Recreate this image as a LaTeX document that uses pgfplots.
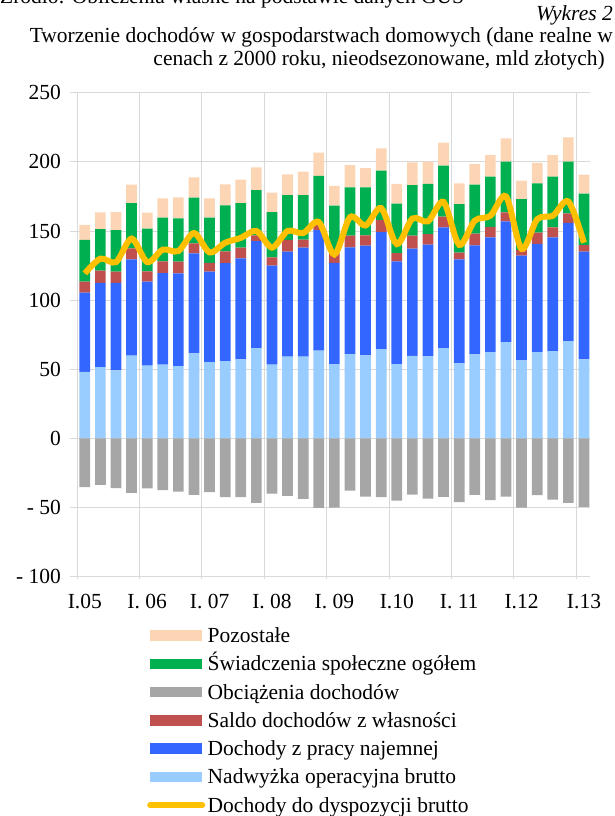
\documentclass[border=0pt]{standalone}
\usepackage{pgfplots}
\pgfplotsset{compat=1.18}
\usepackage{pgfplotstable}
\usepackage{fontspec}
\setmainfont{Liberation Serif}
\definecolor{cPeach}{RGB}{252,213,180}
\definecolor{cGreen}{RGB}{0,176,80}
\definecolor{cGray}{RGB}{166,166,166}
\definecolor{cRed}{RGB}{192,80,77}
\definecolor{cBlue}{RGB}{51,102,255}
\definecolor{cLBlue}{RGB}{153,204,255}
\definecolor{cYellow}{RGB}{255,192,0}
\definecolor{cGrid}{RGB}{217,217,217}
\newcommand{\fs}{\fontsize{21.5bp}{25bp}\selectfont}

% x: quarter index (0 = I.05); segments of the positive stack; ob = Obciazenia (negative); dd = disposable income
\pgfplotstableread{
x  lb   bl   rd   gr   pe   ob     dd
0  48.2 57.2 7.9  30.2 11.0 -35.3  119.3
1  51.6 60.8 8.9  30.1 12.1 -33.6  130.0
2  49.2 63.2 8.2  30.1 13.0 -36.0  127.5
3  59.8 69.7 7.9  32.8 13.3 -39.4  144.5
4  52.6 60.7 7.5  30.9 11.5 -36.2  127.5
5  53.3 66.3 8.4  31.6 14.0 -37.4  136.5
6  52.3 67.0 8.5  31.3 15.2 -38.4  135.5
7  61.5 72.3 7.2  33.1 14.7 -40.8  148.5
8  55.2 65.4 6.4  32.6 14.0 -38.9  134.5
9  55.9 70.9 8.5  33.2 15.2 -42.5  141.5
10 57.1 73.1 7.7  32.3 16.9 -42.5  145.0
11 65.3 77.4 4.1  32.8 16.4 -46.6  150.0
12 53.3 71.6 6.0  32.8 14.0 -39.9  138.0
13 59.1 75.9 8.5  32.5 15.0 -41.5  150.0
14 59.1 78.8 5.8  32.3 16.9 -43.7  148.5
15 63.4 87.3 3.6  35.5 16.8 -50.2  156.5
16 53.6 73.4 6.8  34.5 14.4 -50.0  133.0
17 61.0 77.2 8.4  35.0 16.1 -37.7  160.0
18 60.0 79.4 7.4  34.8 13.9 -42.1  154.0
19 64.6 84.6 8.7  35.7 16.2 -42.5  166.5
20 53.8 74.2 6.0  35.7 14.3 -44.9  140.5
21 59.6 77.6 9.4  36.6 16.4 -40.6  159.0
22 59.3 80.8 7.7  36.2 16.1 -43.5  157.0
23 65.3 87.3 7.7  36.9 16.7 -42.3  171.0
24 54.2 75.3 4.8  35.2 14.9 -46.1  140.0
25 60.8 78.8 8.4  35.5 14.9 -40.8  157.5
26 62.4 83.0 7.5  36.4 15.6 -44.7  161.0
27 69.7 87.3 6.5  36.6 16.9 -42.1  175.0
28 56.4 75.7 4.1  36.9 13.3 -50.0  137.0
29 62.4 78.2 8.2  35.6 14.8 -41.1  158.5
30 63.2 82.2 7.2  36.7 15.6 -44.2  161.0
31 70.2 85.6 6.9  37.4 17.6 -46.6  171.3
32 57.1 77.9 4.8  37.2 13.7 -49.5  141.5
}\datatable

\pgfplotsset{
  myaxis/.style={
    scale only axis, width=512.6bp, height=484bp,
    at={(77bp,239.3bp)}, anchor=south west,
    xmin=-0.5, xmax=32.36, ymin=-100, ymax=250,
  },
  barleg/.style={legend image code/.code={\fill[#1] (0bp,-5.25bp) rectangle (52bp,5.25bp);}},
  lineleg/.style={legend image code/.code={\draw[#1] (0bp,0bp) -- (52bp,0bp);}},
}

\begin{document}
\begin{tikzpicture}
\path[use as bounding box] (0bp,0bp) rectangle (615bp,816bp);
\node[anchor=base west, inner sep=0pt] at (0bp,812bp) {\fs Źródło: Obliczenia własne na podstawie danych GUS};
\node[anchor=base east, inner sep=0pt] at (613bp,795bp) {\fs\itshape Wykres 2};
\node[anchor=base east, inner sep=0pt] at (613bp,773.5bp) {\fs Tworzenie dochodów w gospodarstwach domowych (dane realne w};
\node[anchor=base east, inner sep=0pt] at (605bp,750.5bp) {\fs cenach z 2000 roku, nieodsezonowane, mld złotych)};

\begin{axis}[myaxis,
  ybar stacked, bar width=10.7bp,
  axis line style={draw=none},
  ytick={-100,-50,0,50,100,150,200,250},
  yticklabels={- 100,- 50,0,50,100,150,200,250},
  xtick={0,4,8,12,16,20,24,28,32},
  xticklabels={I.05,I. 06,I. 07,I. 08,I. 09,I.10,I. 11,I.12,I.13},
  minor xtick={-0.5,3.5,7.5,11.5,15.5,19.5,23.5,27.5,31.5},
  xminorgrids=true, xmajorgrids=false, ymajorgrids=true,
  grid style={cGrid, line width=0.8bp},
  minor grid style={cGrid, line width=0.8bp},
  tick align=outside, ytick pos=left, xtick pos=bottom,
  major tick length=7bp, minor tick length=2bp,
  tick style={cGrid, line width=0.8bp},
  every major x tick/.append style={draw=none},
  ticklabel style={font=\fs, inner sep=0pt},
  yticklabel style={anchor=east, xshift=-9bp},
  xticklabel style={anchor=north, yshift=-10bp},
]
\addplot[fill=cLBlue, draw=none] table[x=x,y=lb]{\datatable};
\addplot[fill=cBlue, draw=none] table[x=x,y=bl]{\datatable};
\addplot[fill=cRed, draw=none] table[x=x,y=rd]{\datatable};
\addplot[fill=cGreen, draw=none] table[x=x,y=gr]{\datatable};
\addplot[fill=cPeach, draw=none] table[x=x,y=pe]{\datatable};
\end{axis}

\begin{axis}[myaxis, hide axis,
  legend cell align=left,
  legend style={at={(0.1366,-0.0974)}, anchor=north west, draw=none, fill=none,
    inner sep=0pt, row sep=5.4bp, column sep=2.5bp, font=\fs,
    nodes={inner sep=0pt, text height=18.4bp, text depth=4.5bp}},
]
\addplot[ybar, bar width=10.7bp, bar shift=0pt, fill=cGray, draw=none, forget plot] table[x=x,y=ob]{\datatable};
\addplot[cYellow, line width=6bp, smooth, no markers, forget plot] table[x=x,y=dd]{\datatable};
\addlegendimage{barleg, fill=cPeach, draw=none}
\addlegendentry{Pozostałe}
\addlegendimage{barleg, fill=cGreen, draw=none}
\addlegendentry{Świadczenia społeczne ogółem}
\addlegendimage{barleg, fill=cGray, draw=none}
\addlegendentry{Obciążenia dochodów}
\addlegendimage{barleg, fill=cRed, draw=none}
\addlegendentry{Saldo dochodów z własności}
\addlegendimage{barleg, fill=cBlue, draw=none}
\addlegendentry{Dochody z pracy najemnej}
\addlegendimage{barleg, fill=cLBlue, draw=none}
\addlegendentry{Nadwyżka operacyjna brutto}
\addlegendimage{lineleg, cYellow, line width=6bp, line cap=round}
\addlegendentry{Dochody do dyspozycji brutto}
\end{axis}
\end{tikzpicture}
\end{document}
